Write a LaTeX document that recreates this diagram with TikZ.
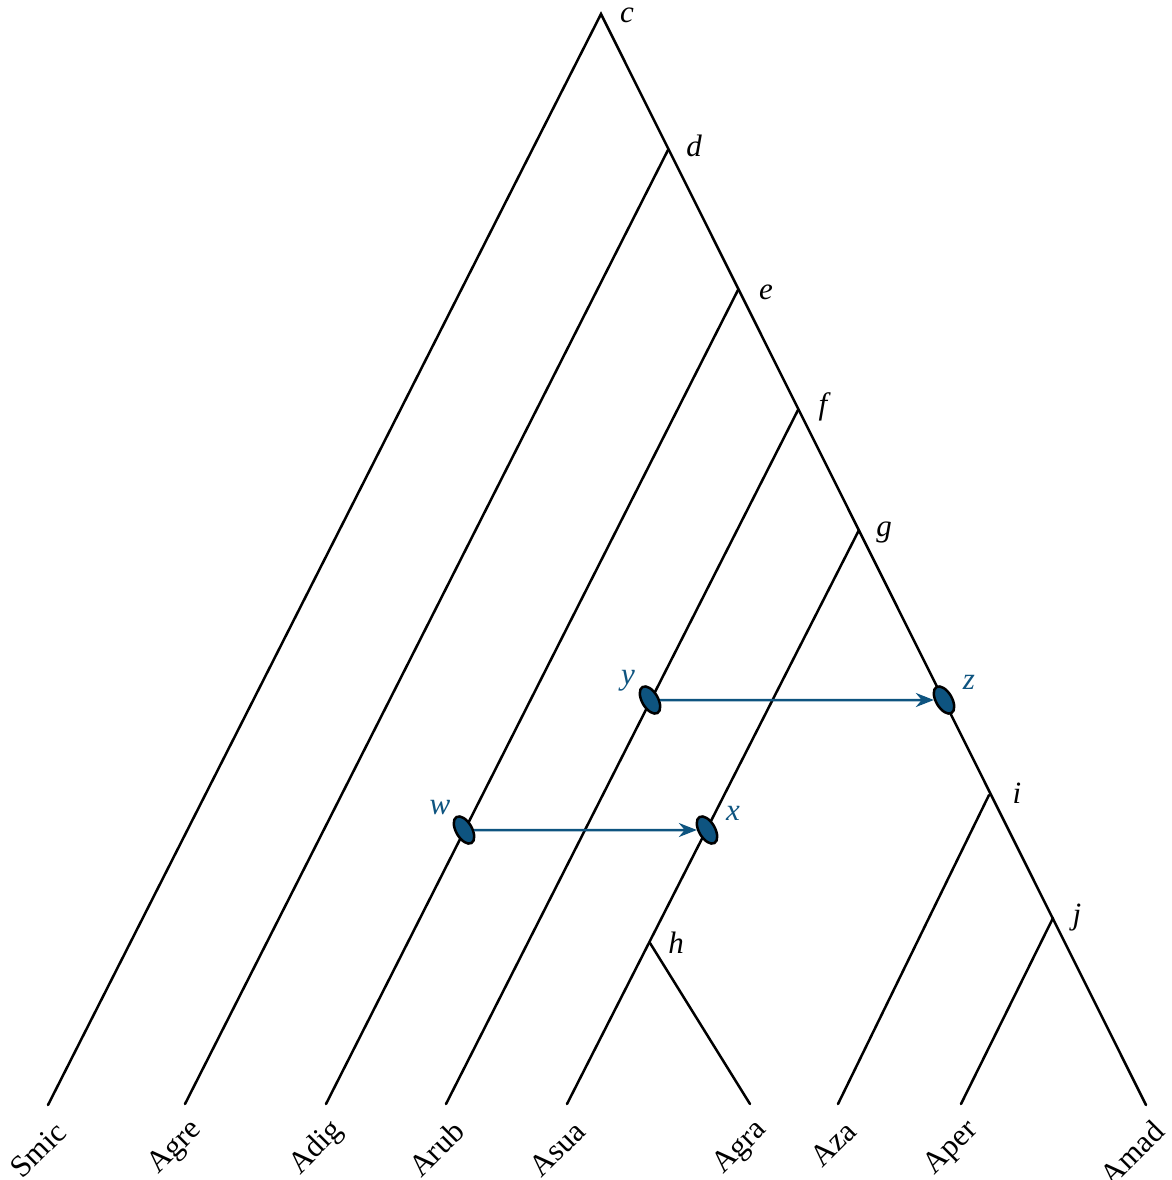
\documentclass[tikz,border=0pt]{standalone}
\usepackage{fontspec}
\setmainfont{Liberation Serif}
\usetikzlibrary{arrows.meta,shapes.geometric}
\definecolor{tblue}{RGB}{14,84,128}
\begin{document}
\begin{tikzpicture}[x=0.5pt,y=-0.5pt,
  branch/.style={line width=1.25pt, line cap=round},
  evt/.style={ellipse, draw=black, line width=1.25pt, fill=tblue, minimum width=15pt, minimum height=8pt, inner sep=0pt, rotate=-60},
  transfer/.style={tblue, line width=1.25pt, -{Stealth[length=9pt,width=7pt]}},
  lbl/.style={font=\fontsize{15.5}{18}\selectfont\itshape, inner sep=0pt},
  elbl/.style={lbl, text=tblue},
  leaf/.style={font=\fontsize{15.5}{18}\selectfont, rotate=45, anchor=east, inner sep=0pt},
  ]
\useasboundingbox (0,0) rectangle (1172,1180);
% internal nodes
\coordinate (c) at (601,14);
\coordinate (d) at (668,150);
\coordinate (e) at (738,290);
\coordinate (f) at (798,410);
\coordinate (g) at (859,530);
\coordinate (h) at (650,943);
\coordinate (i) at (989,795);
\coordinate (j) at (1053,918);
% leaves
\coordinate (Smic) at (48,1105);
\coordinate (Agre) at (185,1104);
\coordinate (Adig) at (326,1104);
\coordinate (Arub) at (446,1104);
\coordinate (Asua) at (567,1104);
\coordinate (Agra) at (750,1104);
\coordinate (Aza) at (838,1104);
\coordinate (Aper) at (961,1104);
\coordinate (Amad) at (1146,1105);
% branches
\draw[branch] (Smic) -- (c) -- (Amad);
\draw[branch] (Agre) -- (d);
\draw[branch] (Adig) -- (e);
\draw[branch] (Arub) -- (f);
\draw[branch] (Asua) -- (g);
\draw[branch] (h) -- (Agra);
\draw[branch] (Aza) -- (i);
\draw[branch] (Aper) -- (j);
% internal labels
\node[lbl] (lc) at (627,15) {c};
\node[lbl] (ld) at (694,146) {d};
\node[lbl] (le) at (766,292) {e};
\node[lbl] (lf) at (823,407) {f};
\node[lbl] (lg) at (884,532) {g};
\node[lbl] (lh) at (676,943) {h};
\node[lbl] (li) at (1017,793) {i};
\node[lbl] (lj) at (1077,918) {j};
% leaf labels
\node[leaf] (tSmic) at (61,1127) {Smic};
\node[leaf] (tAgre) at (198,1126) {Agre};
\node[leaf] (tAdig) at (339,1126) {Adig};
\node[leaf] (tArub) at (459,1126) {Arub};
\node[leaf] (tAsua) at (580,1126) {Asua};
\node[leaf] (tAgra) at (763,1126) {Agra};
\node[leaf] (tAza) at (851,1126) {Aza};
\node[leaf] (tAper) at (974,1126) {Aper};
\node[leaf] (tAmad) at (1159,1126) {Amad};
% events
\node[evt] (w) at (464,830) {};
\node[evt] (x) at (707,830) {};
\node[evt] (y) at (650,700) {};
\node[evt] (z) at (944,700) {};
\draw[transfer] (y) -- (z);
\draw[transfer] (w) -- (x);
\node[elbl] (lw) at (440,808) {w};
\node[elbl] (lx) at (733,813) {x};
\node[elbl] (ly) at (628,681) {y};
\node[elbl] (lz) at (969,682) {z};
\end{tikzpicture}
\end{document}
